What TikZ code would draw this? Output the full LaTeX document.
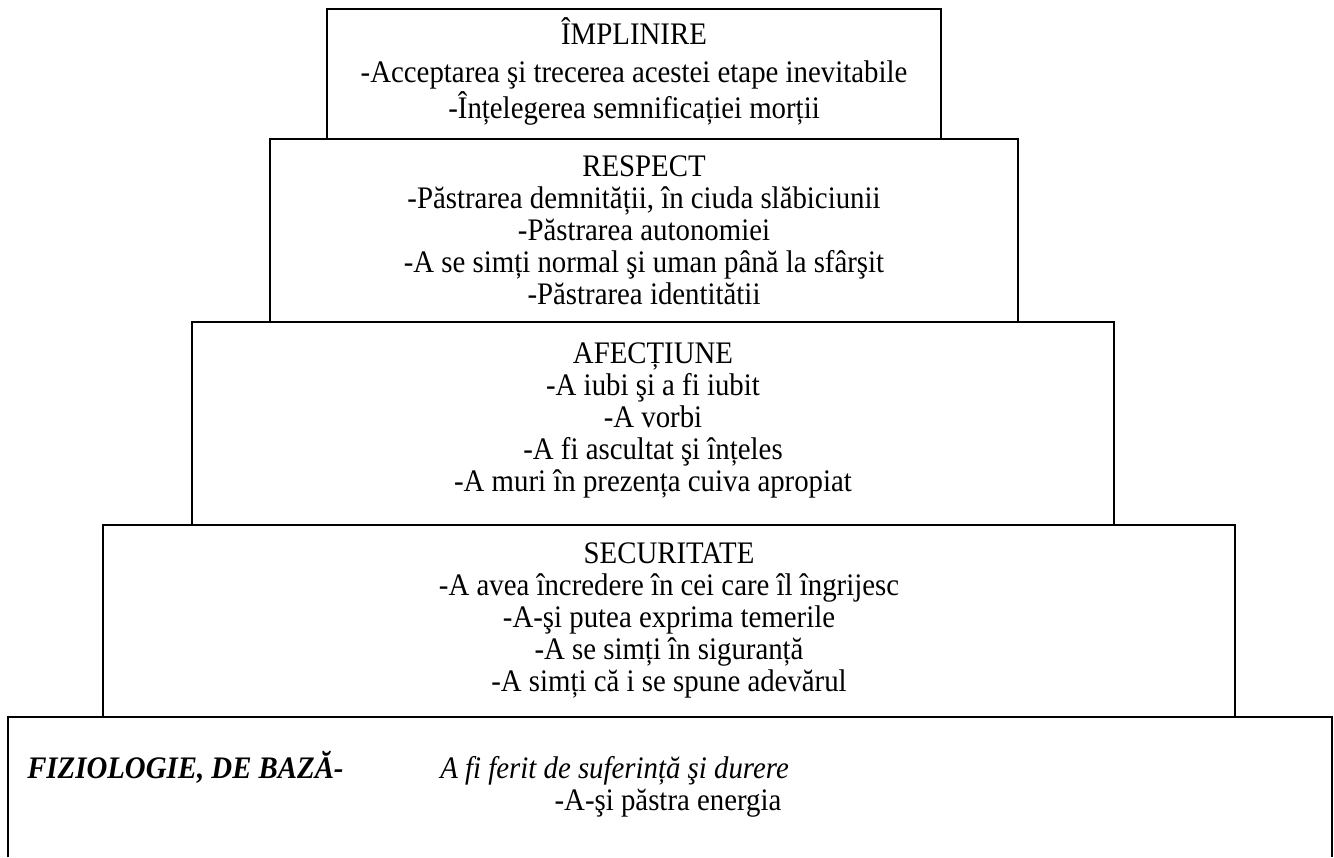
\documentclass[tikz,border=0pt]{standalone}
\usepackage{fontspec}
\setmainfont{Liberation Serif}[FakeStretch=0.92]
\begin{document}
\begin{tikzpicture}[x=0.75pt,y=-0.75pt,
  lbl/.style={font=\fontsize{23.5}{26}\selectfont, inner sep=0pt, anchor=base},
  lblw/.style={lbl, anchor=base west},
  frame/.style={draw=black, line width=1.4pt}]
\useasboundingbox (0,0) rectangle (1334,857);
% frames of the pyramid
\coordinate (b1nw) at (327,9);   \coordinate (b1se) at (941,139);
\coordinate (b2nw) at (270,139); \coordinate (b2se) at (1018,322);
\coordinate (b3nw) at (192,322); \coordinate (b3se) at (1114,525);
\coordinate (b4nw) at (103,525); \coordinate (b4se) at (1235,717);
\coordinate (b5sw) at (8,857);   \coordinate (b5nw) at (8,717);
\coordinate (b5ne) at (1332,717); \coordinate (b5se) at (1332,857);
\draw[frame] (b1nw) rectangle (b1se);
\draw[frame] (b2nw) rectangle (b2se);
\draw[frame] (b3nw) rectangle (b3se);
\draw[frame] (b4nw) rectangle (b4se);
\draw[frame] (b5sw) -- (b5nw) -- (b5ne) -- (b5se);
% level 1
\node[lbl] (a1) at (634,44) {ÎMPLINIRE};
\node[lbl] (a2) at (634,82) {-Acceptarea şi trecerea acestei etape inevitabile};
\node[lbl] (a3) at (634,118) {-Înțelegerea semnificației morții};
% level 2
\node[lbl] (r1) at (644,176) {RESPECT};
\node[lbl] (r2) at (644,208) {-Păstrarea demnității, în ciuda slăbiciunii};
\node[lbl] (r3) at (644,240) {-Păstrarea autonomiei};
\node[lbl] (r4) at (644,272) {-A se simți normal şi uman până la sfârşit};
\node[lbl] (r5) at (644,304) {-Păstrarea identitătii};
% level 3
\node[lbl] (f1) at (653,363) {AFECȚIUNE};
\node[lbl] (f2) at (653,395) {-A iubi şi a fi iubit};
\node[lbl] (f3) at (653,427) {-A vorbi};
\node[lbl] (f4) at (653,459) {-A fi ascultat şi înțeles};
\node[lbl] (f5) at (653,491) {-A muri în prezența cuiva apropiat};
% level 4
\node[lbl] (s1) at (669,563) {SECURITATE};
\node[lbl] (s2) at (669,595) {-A avea încredere în cei care îl îngrijesc};
\node[lbl] (s3) at (669,627) {-A-şi putea exprima temerile};
\node[lbl] (s4) at (669,659) {-A se simți în siguranță};
\node[lbl] (s5) at (669,691) {-A simți că i se spune adevărul};
% level 5
\node[lblw] (z1) at (27,778) {\bfseries\itshape FIZIOLOGIE, DE BAZĂ-};
\node[lblw] (z2) at (440,778) {\itshape A fi ferit de suferință şi durere};
\node[lbl] (z3) at (668,810) {-A-şi păstra energia};
\end{tikzpicture}
\end{document}
